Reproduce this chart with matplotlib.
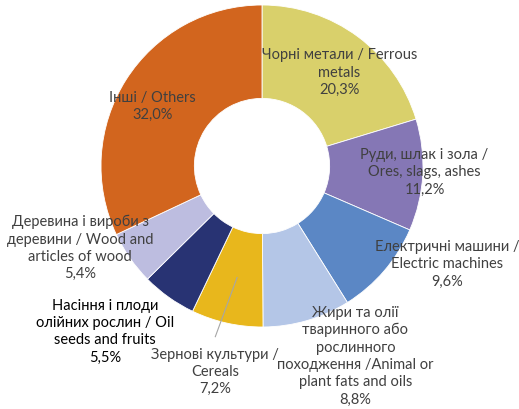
import numpy as np
import matplotlib
matplotlib.use("Agg")
import matplotlib.pyplot as plt

plt.rcParams['font.family'] = ['Lato', 'DejaVu Sans']

categories = [
    'Чорні метали / Ferrous\nmetals',
    'Руди, шлак і зола /\nOres, slags, ashes',
    'Електричні машини /\nElectric machines',
    'Жири та олії\nтваринного або\nрослинного\nпоходження /Animal or\nplant fats and oils',
    'Зернові культури /\nCereals',
    'Насіння і плоди\nолійних рослин / Oil\nseeds and fruits',
    'Деревина і вироби з\nдеревини / Wood and\narticles of wood',
    'Інші / Others',
]
shares = [20.3, 11.2, 9.6, 8.8, 7.2, 5.5, 5.4, 32.0]
colors = ['#D9D06B', '#8577B5', '#5B87C5', '#B4C6E7', '#E8B71C',
          '#283373', '#BDBDE0', '#D2651E']

# label centres in radius units (placed by eye)
label_xy = [(0.48, 0.58), (1.01, -0.04), (1.15, -0.61), (0.58, -1.18),
            (-0.29, -1.28), (-0.975, -1.03), (-1.13, -0.51), (-0.68, 0.37)]
label_colors = ['#404040'] * 5 + ['#000000'] + ['#404040'] * 2

cx, cy, R = 262, 166, 161
W, H = 519, 409

fig = plt.figure(figsize=(W / 100, H / 100), dpi=100)
ax = fig.add_axes([0, 0, 1, 1])
wedges, _ = ax.pie(shares, colors=colors, startangle=90, counterclock=False,
                   radius=1.0, wedgeprops=dict(width=0.58, edgecolor='white', linewidth=0.6))

for w, name, val, (x, y), c in zip(wedges, categories, shares, label_xy, label_colors):
    ax.text(x, y, f"{name}\n{val:.1f}%".replace('.', ','), ha='center', va='center',
            fontsize=10.5, color=c, linespacing=1.3)
    if name.startswith('Зернові'):
        ang = np.deg2rad((w.theta1 + w.theta2) / 2)
        ax.plot([x, 0.71 * np.cos(ang)], [y + 0.22, 0.71 * np.sin(ang)],
                color='#A6A6A6', lw=0.8)

ax.set_xlim(-cx / R, (W - cx) / R)
ax.set_ylim(-(H - cy) / R, cy / R)
ax.set_aspect('auto')
ax.axis('off')

fig.savefig('out.png', dpi=100)
